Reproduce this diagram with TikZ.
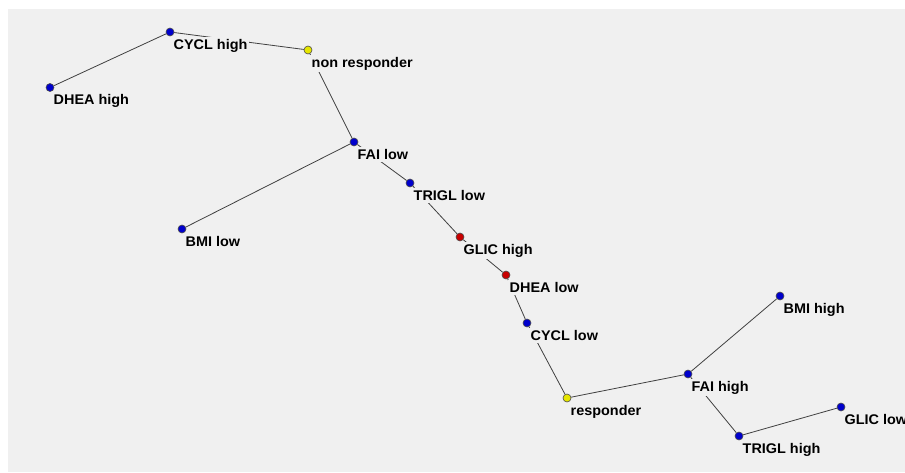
\documentclass[tikz,border=0pt]{standalone}
\usepackage{fontspec}
\setmainfont{Liberation Sans}[FakeStretch=1.03]
\usetikzlibrary{calc}
\definecolor{bggray}{HTML}{F0F0F0}
\definecolor{edgegray}{HTML}{404040}
\definecolor{dotblue}{HTML}{0000CC}
\definecolor{dotyellow}{HTML}{E6E600}
\definecolor{dotred}{HTML}{C80000}
\pgfdeclarelayer{bg}
\pgfdeclarelayer{edges}
\pgfsetlayers{bg,edges,main}
\tikzset{
  dotnode/.style={circle, inner sep=0pt, minimum size=8pt, draw=black!70, line width=0.6pt},
  bluedot/.style={dotnode, fill=dotblue},
  yellowdot/.style={dotnode, fill=dotyellow},
  reddot/.style={dotnode, fill=dotred},
  edge/.style={draw=edgegray, line width=0.8pt},
  lab/.style={anchor=base west, fill=bggray, inner sep=2pt, font=\fontsize{14}{16}\selectfont\bfseries, text=black},
}
\begin{document}
\begin{tikzpicture}[x=1pt,y=-1pt]
\useasboundingbox (0,0) rectangle (905,473);
\begin{pgfonlayer}{bg}
\fill[bggray] (8,9) rectangle (905,472);
\end{pgfonlayer}
% positions
\coordinate (p1) at (170,32);
\coordinate (p2) at (308,50);
\coordinate (p3) at (50,87.5);
\coordinate (p4) at (354,142);
\coordinate (p5) at (410,183);
\coordinate (p6) at (182,229);
\coordinate (p7) at (460,237);
\coordinate (p8) at (506,275);
\coordinate (p9) at (527,323);
\coordinate (p10) at (780,296);
\coordinate (p11) at (688,374);
\coordinate (p12) at (567,398);
\coordinate (p13) at (841,407);
\coordinate (p14) at (739,436);
% labels
\node[lab] (l1) at ($(p1)+(1.5,17.5)$) {CYCL high};
\node[lab] (l2) at ($(p2)+(1.5,17.5)$) {non responder};
\node[lab] (l3) at ($(p3)+(1.5,17.5)$) {DHEA high};
\node[lab] (l4) at ($(p4)+(1.5,17.5)$) {FAI low};
\node[lab] (l5) at ($(p5)+(1.5,17.5)$) {TRIGL low};
\node[lab] (l6) at ($(p6)+(1.5,17.5)$) {BMI low};
\node[lab] (l7) at ($(p7)+(1.5,17.5)$) {GLIC high};
\node[lab] (l8) at ($(p8)+(1.5,17.5)$) {DHEA low};
\node[lab] (l9) at ($(p9)+(1.5,17.5)$) {CYCL low};
\node[lab] (l10) at ($(p10)+(1.5,17.5)$) {BMI high};
\node[lab] (l11) at ($(p11)+(1.5,17.5)$) {FAI high};
\node[lab] (l12) at ($(p12)+(1.5,17.5)$) {responder};
\node[lab] (l13) at ($(p13)+(1.5,17.5)$) {GLIC low};
\node[lab] (l14) at ($(p14)+(1.5,17.5)$) {TRIGL high};
% dots
\node[bluedot] (cyclh) at (p1) {};
\node[yellowdot] (nonresp) at (p2) {};
\node[bluedot] (dheah) at (p3) {};
\node[bluedot] (fail) at (p4) {};
\node[bluedot] (trigll) at (p5) {};
\node[bluedot] (bmil) at (p6) {};
\node[reddot] (glich) at (p7) {};
\node[reddot] (dheal) at (p8) {};
\node[bluedot] (cycll) at (p9) {};
\node[bluedot] (bmih) at (p10) {};
\node[bluedot] (faih) at (p11) {};
\node[yellowdot] (resp) at (p12) {};
\node[bluedot] (glicl) at (p13) {};
\node[bluedot] (triglh) at (p14) {};
% edges
\begin{pgfonlayer}{edges}
\draw[edge] (dheah) -- (cyclh);
\draw[edge] (cyclh) -- (nonresp);
\draw[edge] (nonresp) -- (fail);
\draw[edge] (fail) -- (bmil);
\draw[edge] (fail) -- (trigll);
\draw[edge] (trigll) -- (glich);
\draw[edge] (glich) -- (dheal);
\draw[edge] (dheal) -- (cycll);
\draw[edge] (cycll) -- (resp);
\draw[edge] (resp) -- (faih);
\draw[edge] (faih) -- (bmih);
\draw[edge] (faih) -- (triglh);
\draw[edge] (triglh) -- (glicl);
\end{pgfonlayer}
\end{tikzpicture}
\end{document}
